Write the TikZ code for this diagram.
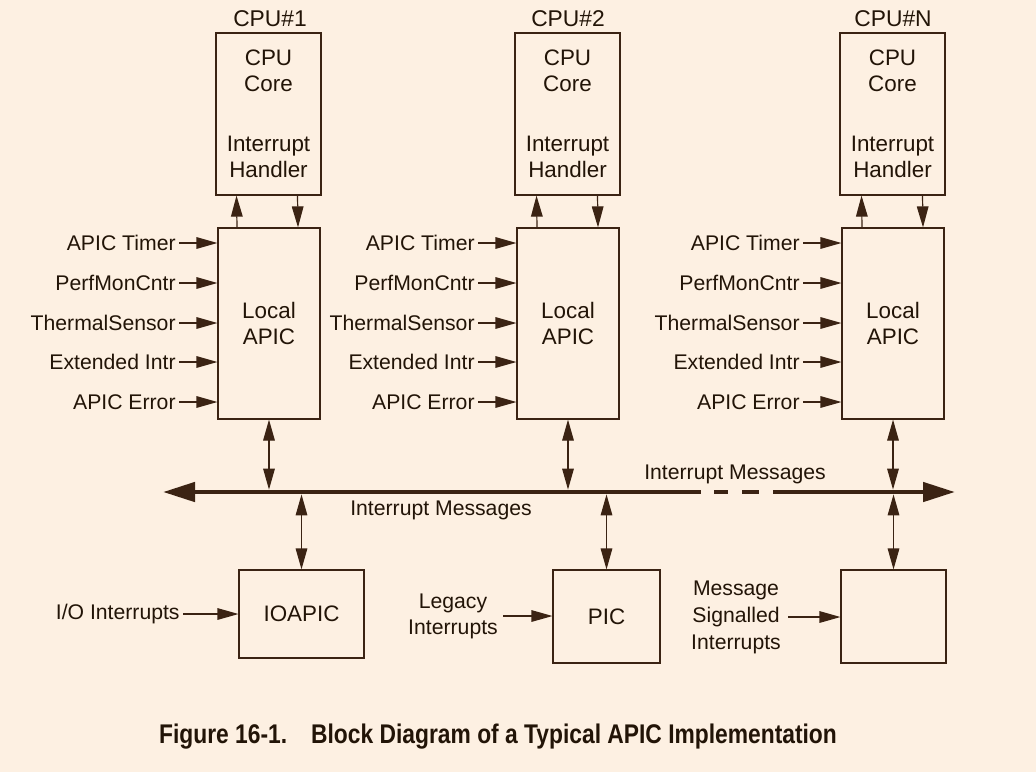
\documentclass[tikz,border=0pt]{standalone}
\usepackage{fontspec}
\setmainfont{Liberation Sans}
\newfontfamily\capfont[FakeStretch=0.845]{Liberation Sans}
\usetikzlibrary{arrows.meta}
\definecolor{bgcol}{HTML}{FDF0E2}
\definecolor{inkcol}{HTML}{3B2313}
\definecolor{txtcol}{HTML}{221407}
\tikzset{
  box/.style={draw=inkcol, line width=0.6pt, inner sep=0pt, text=txtcol, align=center, font=\fontsize{11.2}{13}\selectfont},
  lbl/.style={text=txtcol, inner sep=1.5pt, align=center, font=\fontsize{10.6}{13}\selectfont},
  sig/.style={draw=inkcol, line width=0.6pt, -{Triangle[length=10.5pt,width=5.8pt]}},
  bidir/.style={draw=inkcol, line width=0.6pt, {Triangle[length=10.5pt,width=5.8pt]}-{Triangle[length=10.5pt,width=5.8pt]}},
  bus/.style={draw=inkcol, line width=2.3pt}
}
\begin{document}
\begin{tikzpicture}[x=0.5pt, y=-0.5pt]
  \fill[bgcol] (0,0) rectangle (1036,772);
  \useasboundingbox (0,0) rectangle (1036,772);
  % CPU 1
  \node[lbl, font=\fontsize{11.4}{13}\selectfont] (ttl1) at (270,19) {CPU\#1};
  \node[box, minimum width=52.5pt, minimum height=81pt] (cpu1) at (268.5,114) {CPU\\Core\\[17pt]Interrupt\\Handler};
  \node[box, minimum width=51pt, minimum height=95.5pt] (apic1) at (269,323.5) {Local\\APIC};
  \draw[sig] ([xshift=-16pt]apic1.north) -- ([xshift=-16pt]cpu1.south);
  \draw[sig] ([xshift=14.5pt]cpu1.south) -- ([xshift=14.5pt]apic1.north);
  \node[lbl, anchor=east] (tmr1) at (179,243) {APIC Timer};
  \node[lbl, anchor=east] (pmc1) at (179,283) {PerfMonCntr};
  \node[lbl, anchor=east] (ths1) at (179,323) {ThermalSensor};
  \node[lbl, anchor=east] (ext1) at (179,362) {Extended Intr};
  \node[lbl, anchor=east] (err1) at (179,402) {APIC Error};
  \draw[sig] (tmr1.east) -- (tmr1.east -| apic1.west);
  \draw[sig] (pmc1.east) -- (pmc1.east -| apic1.west);
  \draw[sig] (ths1.east) -- (ths1.east -| apic1.west);
  \draw[sig] (ext1.east) -- (ext1.east -| apic1.west);
  \draw[sig] (err1.east) -- (err1.east -| apic1.west);
  % CPU 2
  \node[lbl, font=\fontsize{11.4}{13}\selectfont] (ttl2) at (568,19) {CPU\#2};
  \node[box, minimum width=52.5pt, minimum height=81pt] (cpu2) at (567.5,114) {CPU\\Core\\[17pt]Interrupt\\Handler};
  \node[box, minimum width=51pt, minimum height=95.5pt] (apic2) at (568,323.5) {Local\\APIC};
  \draw[sig] ([xshift=-15.5pt]apic2.north) -- ([xshift=-15.5pt]cpu2.south);
  \draw[sig] ([xshift=15pt]cpu2.south) -- ([xshift=15pt]apic2.north);
  \node[lbl, anchor=east] (tmr2) at (478,243) {APIC Timer};
  \node[lbl, anchor=east] (pmc2) at (478,283) {PerfMonCntr};
  \node[lbl, anchor=east] (ths2) at (478,323) {ThermalSensor};
  \node[lbl, anchor=east] (ext2) at (478,362) {Extended Intr};
  \node[lbl, anchor=east] (err2) at (478,402) {APIC Error};
  \draw[sig] (tmr2.east) -- (tmr2.east -| apic2.west);
  \draw[sig] (pmc2.east) -- (pmc2.east -| apic2.west);
  \draw[sig] (ths2.east) -- (ths2.east -| apic2.west);
  \draw[sig] (ext2.east) -- (ext2.east -| apic2.west);
  \draw[sig] (err2.east) -- (err2.east -| apic2.west);
  % CPU N
  \node[lbl, font=\fontsize{11.4}{13}\selectfont] (ttlN) at (893,19) {CPU\#N};
  \node[box, minimum width=52.5pt, minimum height=81pt] (cpuN) at (892.5,114) {CPU\\Core\\[17pt]Interrupt\\Handler};
  \node[box, minimum width=51pt, minimum height=95.5pt] (apicN) at (893,323.5) {Local\\APIC};
  \draw[sig] ([xshift=-15.5pt]apicN.north) -- ([xshift=-15.5pt]cpuN.south);
  \draw[sig] ([xshift=15pt]cpuN.south) -- ([xshift=15pt]apicN.north);
  \node[lbl, anchor=east] (tmrN) at (803,243) {APIC Timer};
  \node[lbl, anchor=east] (pmcN) at (803,283) {PerfMonCntr};
  \node[lbl, anchor=east] (thsN) at (803,323) {ThermalSensor};
  \node[lbl, anchor=east] (extN) at (803,362) {Extended Intr};
  \node[lbl, anchor=east] (errN) at (803,402) {APIC Error};
  \draw[sig] (tmrN.east) -- (tmrN.east -| apicN.west);
  \draw[sig] (pmcN.east) -- (pmcN.east -| apicN.west);
  \draw[sig] (thsN.east) -- (thsN.east -| apicN.west);
  \draw[sig] (extN.east) -- (extN.east -| apicN.west);
  \draw[sig] (errN.east) -- (errN.east -| apicN.west);
  % bus
  \coordinate (busL) at (163,492);
  \coordinate (busR) at (955,492);
  \draw[bus, {Triangle[length=16pt,width=9.5pt]}-] (busL) -- (701,492);
  \draw[bus] (714,492) -- (728,492);
  \draw[bus] (742,492) -- (759,492);
  \draw[bus, -{Triangle[length=16pt,width=9.5pt]}] (773,492) -- (busR);
  \node[lbl] (msgA) at (441,510) {Interrupt Messages};
  \node[lbl] (msgB) at (735,474) {Interrupt Messages};
  \draw[bidir] (apic1.south) -- ([yshift=1.2pt]apic1.south |- busL);
  \draw[bidir] (apic2.south) -- ([yshift=1.2pt]apic2.south |- busL);
  \draw[bidir] (apicN.south) -- ([yshift=1.2pt]apicN.south |- busL);
  % bottom row
  \node[box, minimum width=62.5pt, minimum height=44pt] (io) at (301.5,614) {IOAPIC};
  \node[box, minimum width=53.5pt, minimum height=46.5pt] (pic) at (606.5,616.5) {PIC};
  \node[box, minimum width=52.5pt, minimum height=46.5pt] (msi) at (893.5,616.5) {};
  \draw[bidir] ([yshift=-1.2pt]io.north |- busL) -- (io.north);
  \draw[bidir] ([yshift=-1.2pt]pic.north |- busL) -- (pic.north);
  \draw[bidir] ([yshift=-1.2pt]msi.north |- busL) -- (msi.north);
  \node[lbl, anchor=east] (ioin) at (183,614) {I/O Interrupts};
  \node[lbl] (legacy) at (453,616) {Legacy\\Interrupts};
  \node[lbl, font=\fontsize{10.6}{13.5}\selectfont] (msiin) at (736,617) {Message\\Signalled\\Interrupts};
  \draw[sig] (ioin.east) -- (ioin.east -| io.west);
  \draw[sig] ([xshift=1pt]legacy.east) -- (legacy.east -| pic.west);
  \draw[sig] ([xshift=2pt]msiin.east) -- (msiin.east -| msi.west);
  % caption
  \node[text=txtcol, font=\capfont\bfseries\fontsize{13.5}{16}\selectfont] (cap) at (498,737) {Figure 16-1.\hspace{12pt}Block Diagram of a Typical APIC Implementation};
\end{tikzpicture}
\end{document}
